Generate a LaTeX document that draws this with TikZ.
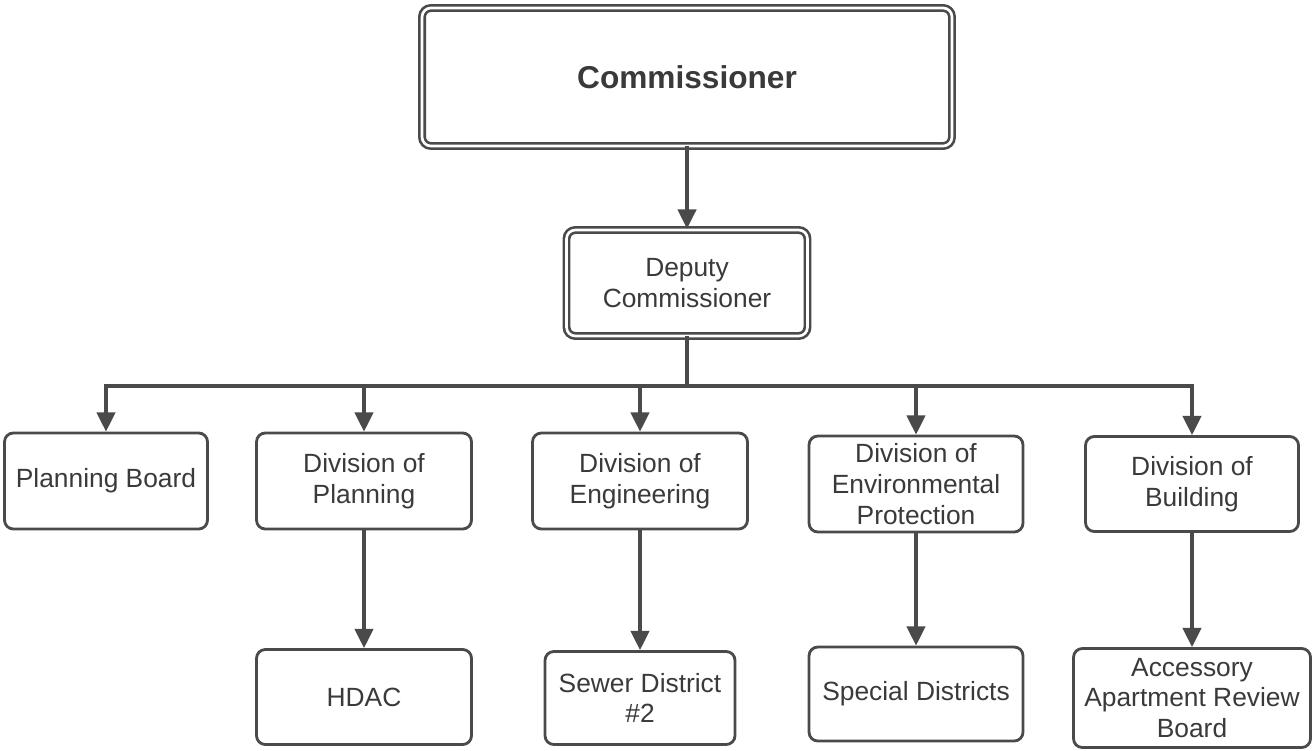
\documentclass[tikz,border=0pt]{standalone}
\usepackage{fontspec}
\setmainfont{Liberation Sans}
\usepackage{tikz}
\usetikzlibrary{arrows.meta}
\definecolor{linegray}{HTML}{4A4A4A}
\definecolor{textgray}{HTML}{3A3A3A}

\begin{document}
\begin{tikzpicture}[x=0.02cm,y=-0.02cm,
  box/.style={draw=linegray,line width=1.6pt,rounded corners=5pt,fill=white,
    text=textgray,align=center,inner sep=2pt,font=\fontsize{15}{17.5}\selectfont},
  headbox/.style={box,double=white,double distance=1.5pt,line width=1.5pt},
  link/.style={draw=linegray,line width=1.9pt,line cap=rect},
  arrow/.style={link,-{Triangle[length=11pt,width=10.5pt]}}]
  \useasboundingbox (0,0) rectangle (1314,750);
  % Top
  \node[headbox,minimum width=10.6cm,minimum height=2.76cm,
    font=\fontsize{18}{21}\selectfont\bfseries] (comm) at (687,77) {Commissioner};
  \node[headbox,minimum width=4.82cm,minimum height=2.12cm] (deputy) at (687,283)
    {Deputy\\Commissioner};
  % Divisions
  \node[box,minimum width=4.06cm,minimum height=1.92cm] (pboard) at (106,481) {Planning Board};
  \node[box,minimum width=4.3cm,minimum height=1.92cm] (dplan) at (364,481) {Division of\\Planning};
  \node[box,minimum width=4.3cm,minimum height=1.92cm] (deng) at (640,481) {Division of\\Engineering};
  \node[box,minimum width=4.28cm,minimum height=1.92cm] (denv) at (916,484) {Division of\\Environmental\\Protection};
  \node[box,minimum width=4.26cm,minimum height=1.9cm] (dbldg) at (1192,484) {Division of\\Building};
  % Lower boxes
  \node[box,minimum width=4.3cm,minimum height=1.9cm] (hdac) at (364,697) {HDAC};
  \node[box,minimum width=3.8cm,minimum height=1.86cm] (sewer) at (640,698) {Sewer District\\\#2};
  \node[box,minimum width=4.28cm,minimum height=1.88cm] (special) at (916,694) {Special Districts};
  \node[box,minimum width=4.74cm,minimum height=1.98cm] (aarb) at (1192,698)
    {Accessory\\Apartment Review\\Board};
  % Connectors
  \coordinate (bus) at (687,386);
  \draw[arrow] (comm) -- (deputy);
  \draw[link] (deputy) -- (bus);
  \draw[link] (bus -| pboard) -- (bus -| dbldg);
  \foreach \n in {pboard,dplan,deng,denv,dbldg}
    \draw[arrow] (bus -| \n) -- (\n);
  \draw[arrow] (dplan) -- (hdac);
  \draw[arrow] (deng) -- (sewer);
  \draw[arrow] (denv) -- (special);
  \draw[arrow] (dbldg) -- (aarb);
\end{tikzpicture}
\end{document}
